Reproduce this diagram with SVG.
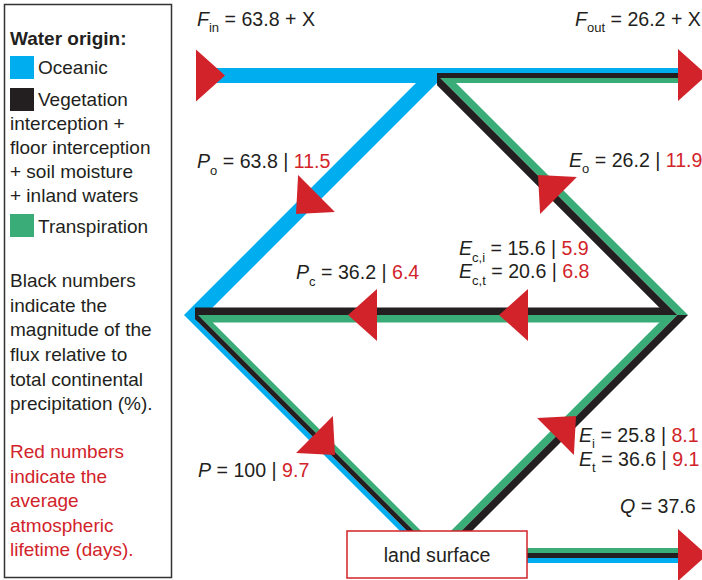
<svg xmlns="http://www.w3.org/2000/svg" xmlns:xlink="http://www.w3.org/1999/xlink" width="702" height="580" viewBox="0 0 702 580">
<style>
text{font-family:"Liberation Sans",Arial,sans-serif;font-size:19px;fill:#231f20}
#labels text,#land-surface text{font-size:19.6px}
.r{fill:#d2232a}
#labels .sub{font-size:13px}
.it{font-style:italic}
.blue{fill:#00aeef}
.blk{fill:#231f20}
.grn{fill:#3aac78}
.ah{fill:#d2232a}
</style>
<defs>
<path id="ah" d="M0,0 L-29,-26 L-29,26 Z"/>
</defs>
<g id="legend">
<rect x="4.5" y="4.5" width="167" height="573" fill="#fff" stroke="#333" stroke-width="1.5"/>
<text x="10" y="45" font-weight="bold">Water origin:</text>
<rect class="blue" x="10" y="56" width="24" height="23"/>
<text x="38" y="74">Oceanic</text>
<rect class="blk" x="10" y="88" width="24" height="23"/>
<text x="38" y="106">Vegetation</text>
<text x="10" y="130">interception +</text>
<text x="10" y="154">floor interception</text>
<text x="10" y="178">+ soil moisture</text>
<text x="10" y="202">+ inland waters</text>
<rect class="grn" x="10" y="214" width="24" height="23"/>
<text x="38" y="233">Transpiration</text>
<text x="10" y="287">Black numbers</text>
<text x="10" y="312">indicate the</text>
<text x="10" y="336">magnitude of the</text>
<text x="10" y="361">flux relative to</text>
<text x="10" y="386">total continental</text>
<text x="10" y="410">precipitation (%).</text>
<text class="r" x="10" y="458">Red numbers</text>
<text class="r" x="10" y="483">indicate the</text>
<text class="r" x="10" y="507">average</text>
<text class="r" x="10" y="532">atmospheric</text>
<text class="r" x="10" y="556">lifetime (days).</text>
</g>
<g id="connectors">
<polygon class="blue" points="205,68 437,68 437,83 198.05,321.95 407.1,531 400,531 184,315 416,83 205,83"/>
<rect class="blue" x="437" y="68" width="241" height="5"/>
<polygon class="blk" points="195,307.5 668,307.5 668,315 198.2,315 414.2,531 407.1,531 195,318.9"/>
<polygon class="grn" points="198.2,315 668,315 668,322.5 212.7,322.5 421.2,531 414.2,531"/>
<polygon class="blk" points="437,73 678,73 678,78 440.4,78 677.4,315 666.8,315 437,85.2"/>
<polygon class="grn" points="440.4,78 678,78 678,83 456,83 688,315 677.4,315"/>
<polygon class="grn" points="666.8,315 677.4,315 461.4,531 450.8,531"/>
<polygon class="blk" points="677.4,315 688,315 472,531 461.4,531"/>
<rect class="grn" x="527" y="548" width="151" height="5"/>
<rect class="blk" x="527" y="553" width="151" height="5"/>
<rect class="blue" x="527" y="558" width="151" height="5"/>
<use href="#ah" class="ah" transform="translate(225,75.5)"/>
<use href="#ah" class="ah" transform="translate(707,75)"/>
<use href="#ah" class="ah" transform="translate(296,214) rotate(135)"/>
<use href="#ah" class="ah" transform="translate(348,315) rotate(180)"/>
<use href="#ah" class="ah" transform="translate(499,315) rotate(180)"/>
<use href="#ah" class="ah" transform="translate(538,175) rotate(225)"/>
<use href="#ah" class="ah" transform="translate(335,455) rotate(45)"/>
<use href="#ah" class="ah" transform="translate(576,416) rotate(-45)"/>
<use href="#ah" class="ah" transform="translate(707,555)"/>
</g>
<g id="land-surface">
<rect x="347" y="531" width="180" height="47" fill="#fff" stroke="#d2232a" stroke-width="1.5"/>
<text x="437" y="562" text-anchor="middle">land surface</text>
</g>
<g id="labels">
<text x="197" y="26"><tspan class="it">F</tspan><tspan class="sub" dy="6">in</tspan><tspan dy="-6"> = 63.8 + X</tspan></text>
<text x="575" y="26"><tspan class="it">F</tspan><tspan class="sub" dy="6">out</tspan><tspan dy="-6"> = 26.2 + X</tspan></text>
<text x="197" y="168"><tspan class="it">P</tspan><tspan class="sub" dy="7">o</tspan><tspan dy="-7"> = 63.8 | </tspan><tspan class="r">11.5</tspan></text>
<text x="296" y="279"><tspan class="it">P</tspan><tspan class="sub" dy="7">c</tspan><tspan dy="-7"> = 36.2 | </tspan><tspan class="r">6.4</tspan></text>
<text x="569" y="167"><tspan class="it">E</tspan><tspan class="sub" dy="6">o</tspan><tspan dy="-6"> = 26.2 | </tspan><tspan class="r">11.9</tspan></text>
<text x="459" y="255"><tspan class="it">E</tspan><tspan class="sub" dy="7">c,i</tspan><tspan dy="-7"> = 15.6 | </tspan><tspan class="r">5.9</tspan></text>
<text x="459" y="278"><tspan class="it">E</tspan><tspan class="sub" dy="7">c,t</tspan><tspan dy="-7"> = 20.6 | </tspan><tspan class="r">6.8</tspan></text>
<text x="579" y="442"><tspan class="it">E</tspan><tspan class="sub" dy="6">i</tspan><tspan dy="-6"> = 25.8 | </tspan><tspan class="r">8.1</tspan></text>
<text x="579" y="466"><tspan class="it">E</tspan><tspan class="sub" dy="6">t</tspan><tspan dy="-6"> = 36.6 | </tspan><tspan class="r">9.1</tspan></text>
<text x="198" y="477"><tspan class="it">P</tspan> = 100 | <tspan class="r">9.7</tspan></text>
<text x="620" y="513"><tspan class="it">Q</tspan> = 37.6</text>
</g>
</svg>
